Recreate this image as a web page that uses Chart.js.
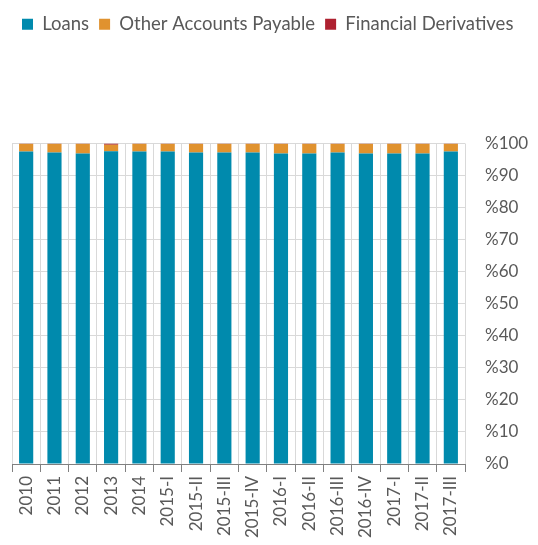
<!DOCTYPE html>
<html>
<head>
<meta charset="utf-8">
<script src="https://cdn.jsdelivr.net/npm/chart.js@4/dist/chart.umd.min.js"></script>
<style>
  html, body { margin: 0; padding: 0; background: #fff; }
  #wrap { width: 538px; height: 545px; }
</style>
</head>
<body>
<div id="wrap"><canvas id="chart"></canvas></div>
<script>
// categories
var periods = ["2010","2011","2012","2013","2014","2015-I","2015-II","2015-III","2015-IV",
  "2016-I","2016-II","2016-III","2016-IV","2017-I","2017-II","2017-III"];

// shares in percent
var loans = [97.5,97.2,96.9,97.6,97.5,97.5,97.2,97.2,97.2,96.9,96.9,97.2,96.9,96.9,96.9,97.5];
var derivatives = [0.05,0.05,0.05,0.4,0.05,0.05,0.05,0.05,0.05,0.05,0.05,0.05,0.05,0.05,0.05,0.05];
var otherPayable = [];
for (let i = 0; i < loans.length; i++) {
  otherPayable.push(+(100 - loans[i] - derivatives[i]).toFixed(2));
}

var yTicks = [0,10,20,30,40,50,60,70,80,90,100];

var textColor = "#595959";

// push the plot down below the legend
var legendGap = {
  id: "legendGap",
  beforeInit(chart) {
    const fit = chart.legend.fit;
    chart.legend.fit = function () {
      fit.bind(chart.legend)();
      this.height += 100;
    };
  }
};

new Chart("chart", {
  type: "bar",
  data: {
    labels: periods,
    datasets: [
      { label: "Loans", data: loans, backgroundColor: "#008aad" },
      { label: "Other Accounts Payable", data: otherPayable, backgroundColor: "#e0922f" },
      { label: "Financial Derivatives", data: derivatives, backgroundColor: "#ae2130" }
    ]
  },
  options: {
    responsive: true,
    maintainAspectRatio: false,
    animation: false,
    layout: { padding: { left: 12, right: 0, top: 5, bottom: 0 } },
    datasets: { bar: { barPercentage: 0.5, categoryPercentage: 1 } },
    plugins: {
      legend: {
        position: "top",
        align: "start",
        labels: {
          boxWidth: 11,
          boxHeight: 11,
          padding: 10,
          color: textColor,
          font: { family: "Lato", size: 18.5 }
        }
      },
      tooltip: { enabled: false }
    },
    scales: {
      x: {
        stacked: true,
        grid: { offset: true, color: "#d9d9d9", tickColor: "#808080", tickLength: 8 },
        border: { color: "#808080" },
        ticks: {
          minRotation: 90,
          maxRotation: 90,
          autoSkip: false,
          padding: 4,
          color: textColor,
          font: { family: "Lato", size: 17 }
        },
        afterFit(axis) { axis.height = 81; }
      },
      y: {
        stacked: true,
        position: "right",
        min: 0,
        max: 100,
        afterBuildTicks(axis) { axis.ticks = yTicks.map(v => ({ value: v })); },
        afterFit(axis) { axis.width = 73; },
        grid: { color: "#d9d9d9", drawTicks: false },
        border: { display: false },
        ticks: {
          padding: 20,
          color: textColor,
          font: { family: "Lato", size: 17 },
          callback: v => "%" + v
        }
      }
    }
  },
  plugins: [legendGap]
});
</script>
</body>
</html>
